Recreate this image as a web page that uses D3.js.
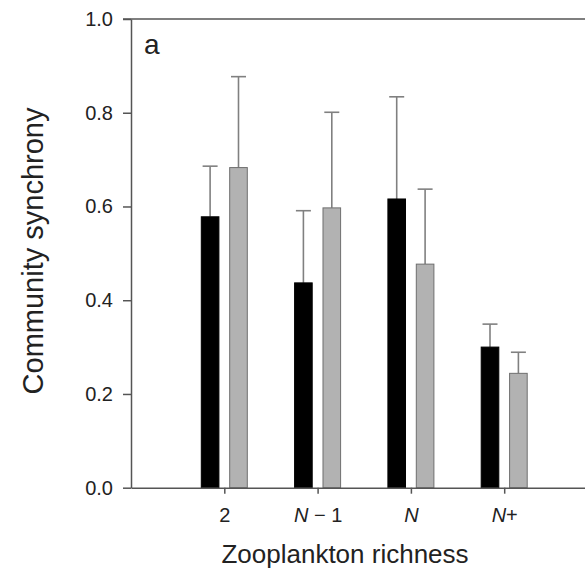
<!DOCTYPE html>
<html>
<head>
<meta charset="utf-8">
<script src="https://cdn.jsdelivr.net/npm/d3@7"></script>
<style>
  body { margin: 0; background: #fff; }
  svg { display: block; font-family: "Liberation Sans", Arial, sans-serif; }
</style>
</head>
<body>
<svg id="chart" width="585" height="571"></svg>
<script>
// zooplankton richness levels
const categories = ["2", "N-1", "N", "N+"];
const seriesKeys = ["black", "gray"];
// mean community synchrony
const blackMeans = [0.578, 0.437, 0.616, 0.300];
const grayMeans = [0.683, 0.597, 0.477, 0.244];
// upper end of error bars
const blackUpper = [0.686, 0.591, 0.834, 0.349];
const grayUpper = [0.877, 0.801, 0.637, 0.289];
const yTicks = [0, 0.2, 0.4, 0.6, 0.8, 1.0];

const svg = d3.select("#chart"),
    margin = {top: 19, left: 131},
    axisColor = "#555";

const x = d3.scaleLinear()
    .domain([0, 5])
    .range([margin.left, margin.left + 5 * 93.3]);

const y = d3.scaleLinear()
    .domain([0, 1])
    .range([487.7, margin.top]);

const x1 = d3.scaleBand()
    .domain(seriesKeys)
    .range([-23, 23])
    .paddingInner(0.38);

const colors = d3.scaleOrdinal()
    .domain(seriesKeys)
    .range(["#000", "#b2b2b2"]);

const rows = categories.map((c, i) => ({
    cat: c, pos: i + 1,
    vals: [
        {key: "black", mean: blackMeans[i], upper: blackUpper[i]},
        {key: "gray", mean: grayMeans[i], upper: grayUpper[i]}
    ]
}));

// error bars behind the bars
const groups = svg.append("g")
    .selectAll("g")
    .data(rows)
    .enter().append("g")
    .attr("transform", d => "translate(" + x(d.pos) + ",0)");

const err = groups.selectAll("g.err")
    .data(d => d.vals)
    .enter().append("g")
    .attr("class", "err")
    .attr("stroke", "#808080")
    .attr("stroke-width", 1.6);

err.append("line")
    .attr("x1", d => x1(d.key) + x1.bandwidth() / 2)
    .attr("x2", d => x1(d.key) + x1.bandwidth() / 2)
    .attr("y1", d => y(d.mean))
    .attr("y2", d => y(d.upper));

err.append("line")
    .attr("x1", d => x1(d.key) + x1.bandwidth() / 2 - 7.5)
    .attr("x2", d => x1(d.key) + x1.bandwidth() / 2 + 7.5)
    .attr("y1", d => y(d.upper))
    .attr("y2", d => y(d.upper));

groups.selectAll("rect")
    .data(d => d.vals)
    .enter().append("rect")
    .attr("x", d => x1(d.key))
    .attr("width", x1.bandwidth())
    .attr("y", d => y(d.mean))
    .attr("height", d => y(0) - y(d.mean))
    .attr("fill", d => colors(d.key))
    .attr("stroke", d => d.key === "black" ? "#000" : "#6e6e6e")
    .attr("stroke-width", 1);

// axes
const yAxis = svg.append("g")
    .attr("transform", "translate(" + margin.left + ",0)")
    .call(d3.axisLeft(y).tickValues(yTicks).tickFormat(d3.format(".1f")).tickSize(8).tickPadding(10).tickSizeOuter(0));

const xAxis = svg.append("g")
    .attr("transform", "translate(0," + y(0) + ")")
    .call(d3.axisBottom(x).tickValues([1, 2, 3, 4]).tickSize(6).tickPadding(14).tickSizeOuter(0)
        .tickFormat(() => ""));

// top border
svg.append("line")
    .attr("x1", margin.left - 8).attr("x2", x(5))
    .attr("y1", y(1)).attr("y2", y(1))
    .attr("stroke", axisColor).attr("stroke-width", 1.5);

[yAxis, xAxis].forEach(a => {
    a.selectAll("path, line").attr("stroke", axisColor).attr("stroke-width", 1.5);
    a.selectAll("text").attr("font-size", 20).attr("fill", "#222")
        .attr("font-family", "'Liberation Sans', Arial, sans-serif");
});

// x tick labels with italic N
xAxis.selectAll(".tick text").each(function(d) {
    const t = d3.select(this), c = categories[d - 1];
    t.text(null);
    if (c === "2") { t.append("tspan").text("2"); return; }
    t.append("tspan").attr("font-style", "italic").text("N");
    if (c === "N-1") t.append("tspan").text(" \u2212 1");
    if (c === "N+") t.append("tspan").text("+");
});

svg.append("text")
    .attr("x", 144).attr("y", 54)
    .attr("font-size", 28).attr("fill", "#222")
    .text("a");

svg.append("text")
    .attr("transform", "translate(43,251) rotate(-90)")
    .attr("text-anchor", "middle")
    .attr("font-size", 29).attr("fill", "#222")
    .text("Community synchrony");

svg.append("text")
    .attr("x", 345).attr("y", 563)
    .attr("text-anchor", "middle")
    .attr("font-size", 26).attr("fill", "#222")
    .text("Zooplankton richness");
</script>
</body>
</html>
